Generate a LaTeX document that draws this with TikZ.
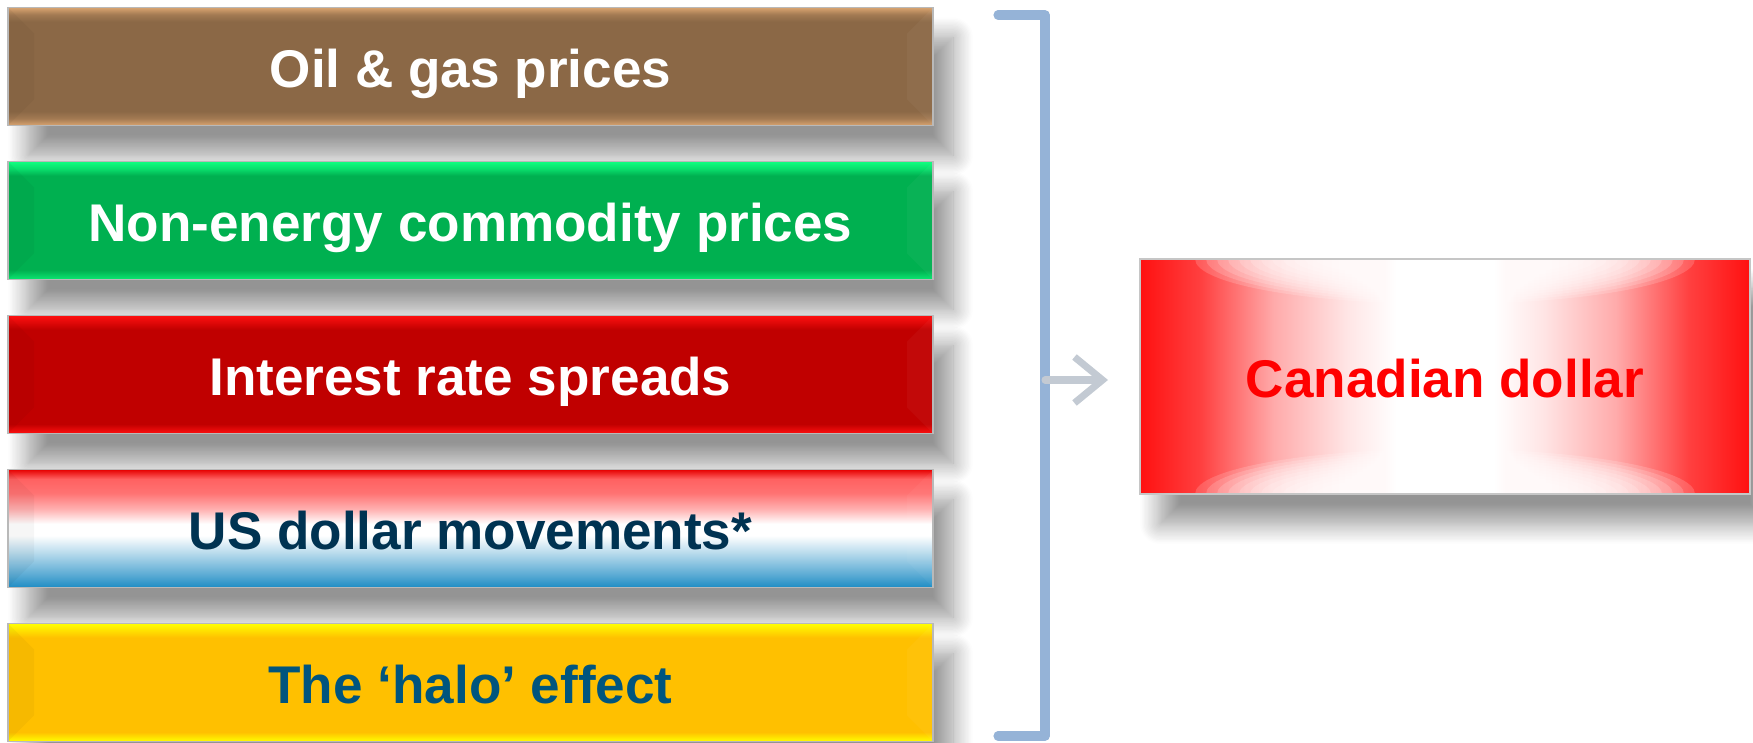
\documentclass[tikz,border=0pt]{standalone}
\usepackage{fontspec}
\setmainfont{Liberation Sans}
\usetikzlibrary{positioning}
\usetikzlibrary{arrows.meta}
\usetikzlibrary{shadows.blur}

\definecolor{oiltan}{HTML}{D9A470}
\definecolor{oilbrown}{HTML}{8B6846}
\definecolor{leafgreen}{HTML}{00B050}
\definecolor{minted}{HTML}{10FF80}
\definecolor{darkred}{HTML}{C00000}
\definecolor{brightred}{HTML}{FF1010}
\definecolor{usdblue}{HTML}{1E8CC4}
\definecolor{gold}{HTML}{FFC000}
\definecolor{lemon}{HTML}{FFFF00}
\definecolor{navytext}{HTML}{003352}
\definecolor{halotext}{HTML}{00557E}
\definecolor{bracketblue}{HTML}{95B3D7}
\definecolor{arrowgrey}{HTML}{C3CAD3}

% bars: light rim top and bottom, flat colour in between
\pgfdeclareverticalshading{oilfill}{100bp}{color(0bp)=(oiltan); color(25bp)=(oiltan);
  color(28bp)=(oilbrown!70!oiltan); color(31bp)=(oilbrown); color(69bp)=(oilbrown);
  color(72bp)=(oilbrown!70!oiltan); color(75bp)=(oiltan); color(100bp)=(oiltan)}
\pgfdeclareverticalshading{greenfill}{100bp}{color(0bp)=(minted!70!leafgreen); color(25bp)=(minted!70!leafgreen);
  color(29bp)=(leafgreen); color(69bp)=(leafgreen);
  color(72bp)=(minted!60!leafgreen); color(75bp)=(minted); color(100bp)=(minted)}
\pgfdeclareverticalshading{redfill}{100bp}{color(0bp)=(brightred); color(25bp)=(brightred);
  color(29bp)=(darkred); color(69bp)=(darkred);
  color(72bp)=(darkred!50!brightred); color(75bp)=(brightred); color(100bp)=(brightred)}
\pgfdeclareverticalshading{usdfill}{100bp}{color(0bp)=(usdblue); color(25bp)=(usdblue);
  color(30bp)=(usdblue!75!white); color(40bp)=(usdblue!30!white); color(47bp)=(white);
  color(52bp)=(white); color(58bp)=(red!30!white); color(65bp)=(red!55!white);
  color(71bp)=(red!62!white); color(75bp)=(red!90!black); color(100bp)=(red!90!black)}
\pgfdeclareverticalshading{halofill}{100bp}{color(0bp)=(lemon); color(25bp)=(lemon);
  color(29bp)=(gold); color(69bp)=(gold);
  color(72bp)=(gold!50!lemon); color(75bp)=(lemon); color(100bp)=(lemon)}
\pgfdeclarehorizontalshading{cadfill}{100bp}{color(0bp)=(brightred); color(25bp)=(brightred);
  color(26.5bp)=(red!88!white); color(30bp)=(red!75!white); color(36bp)=(red!33!white);
  color(42bp)=(red!10!white); color(46bp)=(white); color(54bp)=(white);
  color(58bp)=(red!10!white); color(64bp)=(red!33!white); color(70bp)=(red!75!white);
  color(73.5bp)=(red!88!white); color(75bp)=(brightred); color(100bp)=(brightred)}

\tikzstyle{dropshadow}=[blur shadow={shadow xshift=0.2cm, shadow yshift=-0.3cm,
  shadow blur radius=0.2cm, shadow blur steps=16, shadow opacity=42}]
\tikzstyle{bar}=[rectangle, minimum width=9.25cm, minimum height=1.18cm, outer sep=0pt,
  draw=gray!55, line width=0.4pt, font=\fontsize{15.1}{18}\selectfont\bfseries,
  text height=12pt, text depth=0pt, dropshadow,
  path picture={
    \fill[black, opacity=0.035] (path picture bounding box.north west) -- ++(0.26,-0.26)
      -- ([shift={(0.26,0.26)}]path picture bounding box.south west)
      -- (path picture bounding box.south west) -- cycle;
    \fill[white, opacity=0.035] (path picture bounding box.north east) -- ++(-0.26,-0.26)
      -- ([shift={(-0.26,0.26)}]path picture bounding box.south east)
      -- (path picture bounding box.south east) -- cycle;
  }]
% white glow eating into the top and bottom edges
\tikzstyle{target}=[rectangle, minimum width=6.1cm, minimum height=2.35cm, outer sep=0pt,
  draw=gray!45, line width=0.4pt, shading=cadfill, text=red,
  font=\fontsize{15.1}{18}\selectfont\bfseries, text height=12pt, text depth=0pt, dropshadow,
  path picture={
    \foreach \k in {0,...,11} {
      \fill[white, opacity=0.16] (path picture bounding box.north)
        ellipse [x radius=2.5cm-0.11cm*\k, y radius=0.45cm-0.024cm*\k];
      \fill[white, opacity=0.16] (path picture bounding box.south)
        ellipse [x radius=2.5cm-0.11cm*\k, y radius=0.45cm-0.024cm*\k];
    }
  }]
\tikzstyle{bracket}=[draw=bracketblue, line width=2.6pt, line cap=round, line join=round]
\tikzset{>={Straight Barb[length=2.8mm, width=4.6mm]}}

\begin{document}
\begin{tikzpicture}
  \useasboundingbox (0,0) rectangle (17.53,7.42);

  % the five drivers
  \draw node at (4.705,6.755) [bar, shading=oilfill, text=white] (oil) {Oil \& gas prices};
  \node [bar, shading=greenfill, text=white, below=0.36cm of oil] (nonenergy) {Non-energy commodity prices};
  \node [bar, shading=redfill, text=white, below=0.36cm of nonenergy] (spreads) {Interest rate spreads};
  \node [bar, shading=usdfill, text=navytext, below=0.36cm of spreads] (usd) {US dollar movements*};
  \node [bar, shading=halofill, text=halotext, below=0.36cm of usd] (halo) {The `halo' effect};

  \draw node at (14.45,3.655) [target] (cad) {Canadian dollar};

  % bracket gathering them
  \coordinate (btop) at (10.45,7.27);
  \coordinate (bbot) at (10.45,0.06);
  \coordinate (bmid) at (10.45,3.62);
  \draw [bracket] ([xshift=-0.47cm]btop) -- (btop) -- (bbot) -- ([xshift=-0.47cm]bbot);

  \draw [->, arrowgrey, line width=2pt, line cap=round, shorten >=0.32cm] (bmid) -- (cad.west |- bmid);
\end{tikzpicture}
\end{document}
